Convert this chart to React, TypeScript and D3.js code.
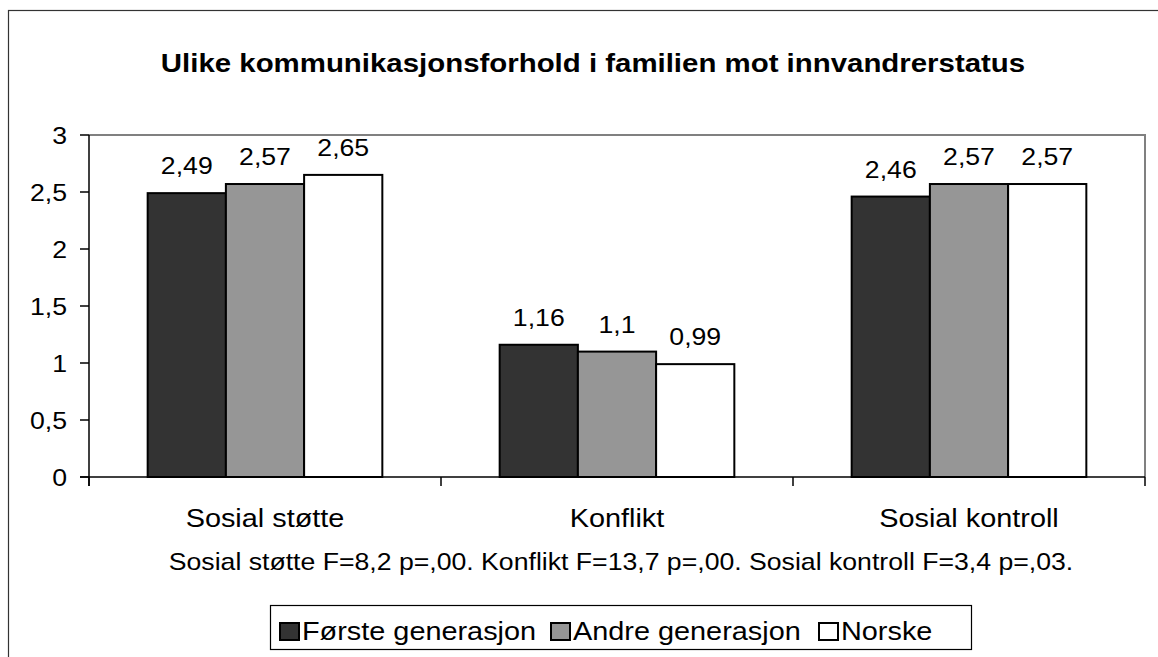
import * as d3 from 'd3';

// chart data
const categories = ['Sosial støtte', 'Konflikt', 'Sosial kontroll'];
const seriesNames = ['Første generasjon', 'Andre generasjon', 'Norske'];
const forsteGen = [2.49, 1.16, 2.46];
const andreGen = [2.57, 1.1, 2.57];
const norske = [2.65, 0.99, 2.57];
const yTicks = [0, 0.5, 1, 1.5, 2, 2.5, 3];

const title = 'Ulike kommunikasjonsforhold i familien mot innvandrerstatus';
const footnote = 'Sosial støtte F=8,2 p=,00. Konflikt F=13,7 p=,00. Sosial kontroll F=3,4 p=,03.';

const seriesValues = [forsteGen, andreGen, norske];
const seriesColors = ['#333333', '#969696', '#ffffff'];

const W = 1158;
const H = 657;
const plot = { left: 89, right: 1145, top: 135, bottom: 477 };
const font = "Arial, 'Liberation Sans', sans-serif";
// the original image is stretched a bit horizontally
const SX = 1.11;

const fmt = (v: number) => String(v).replace('.', ',');

function T({ x, y, size, anchor = 'start', bold = false, children }: { x: number; y: number; size: number; anchor?: string; bold?: boolean; children: string }) {
	return (
		<text transform={`translate(${x},${y}) scale(${SX},1)`} textAnchor={anchor} fontSize={size} fontWeight={bold ? 'bold' : 'normal'} fill="#000">
			{children}
		</text>
	);
}

export default function App() {
	const x = d3.scaleBand<string>().domain(categories).range([plot.left, plot.right]).padding(0);
	const xs = d3
		.scaleBand<string>()
		.domain(seriesNames)
		.range([0, x.bandwidth()])
		.paddingInner(0)
		.paddingOuter(0.75);
	const y = d3.scaleLinear().domain([0, 3]).range([plot.bottom, plot.top]);

	const catEdges = [...categories.map((c) => x(c) as number), plot.right];

	const legendItems = [
		{ sq: 280, tx: 302 },
		{ sq: 551, tx: 573 },
		{ sq: 819, tx: 841 },
	];

	return (
		<svg width={W} height={H} style={{ position: 'absolute', left: 0, top: 0 }} fontFamily={font}>
			<rect x={0} y={0} width={W} height={H} fill="#fff" />
			{/* outer chart frame (cropped at right/bottom) */}
			<rect x={8.5} y={10.5} width={W + 40} height={H + 40} fill="none" stroke="#333" strokeWidth={1.2} />

			<T x={593} y={72} size={26.5} anchor="middle" bold>
				{title}
			</T>

			{/* plot area border */}
			<path d={`M${plot.left},${plot.top}H${plot.right}V${plot.bottom}`} fill="none" stroke="#808080" strokeWidth={2} />

			{/* bars */}
			{seriesValues.map((vals, si) =>
				vals.map((v, ci) => {
					const bx = (x(categories[ci]) as number) + (xs(seriesNames[si]) as number);
					const by = y(v);
					return (
						<g key={`${si}-${ci}`}>
							<rect x={bx} y={by} width={xs.bandwidth()} height={y(0) - by} fill={seriesColors[si]} stroke="#000" strokeWidth={2} />
							<T x={bx + xs.bandwidth() / 2} y={by - 19} size={24} anchor="middle">
								{fmt(v)}
							</T>
						</g>
					);
				})
			)}

			{/* y axis */}
			<line x1={plot.left} x2={plot.left} y1={plot.top} y2={plot.bottom + 9} stroke="#000" strokeWidth={1.5} />
			{yTicks.map((t) => (
				<g key={t}>
					<line x1={plot.left - 9} x2={plot.left} y1={y(t)} y2={y(t)} stroke="#000" strokeWidth={1.5} />
					<T x={67} y={y(t) + 8.5} size={24} anchor="end">
						{fmt(t)}
					</T>
				</g>
			))}

			{/* x axis */}
			<line x1={plot.left - 9} x2={plot.right} y1={plot.bottom} y2={plot.bottom} stroke="#000" strokeWidth={1.5} />
			{catEdges.map((e, i) => (
				<line key={i} x1={e} x2={e} y1={plot.bottom} y2={plot.bottom + 9} stroke="#000" strokeWidth={1.5} />
			))}
			{categories.map((c) => (
				<T key={c} x={(x(c) as number) + x.bandwidth() / 2} y={527} size={26} anchor="middle">
					{c}
				</T>
			))}

			<T x={621} y={570} size={24} anchor="middle">
				{footnote}
			</T>

			{/* legend */}
			<rect x={270.5} y={605.5} width={701} height={44} fill="#fff" stroke="#000" strokeWidth={1.2} />
			{seriesNames.map((s, i) => (
				<g key={s}>
					<rect x={legendItems[i].sq} y={623} width={19} height={17} fill={seriesColors[i]} stroke="#000" strokeWidth={2} />
					<T x={legendItems[i].tx} y={639.5} size={26}>
						{s}
					</T>
				</g>
			))}
		</svg>
	);
}
